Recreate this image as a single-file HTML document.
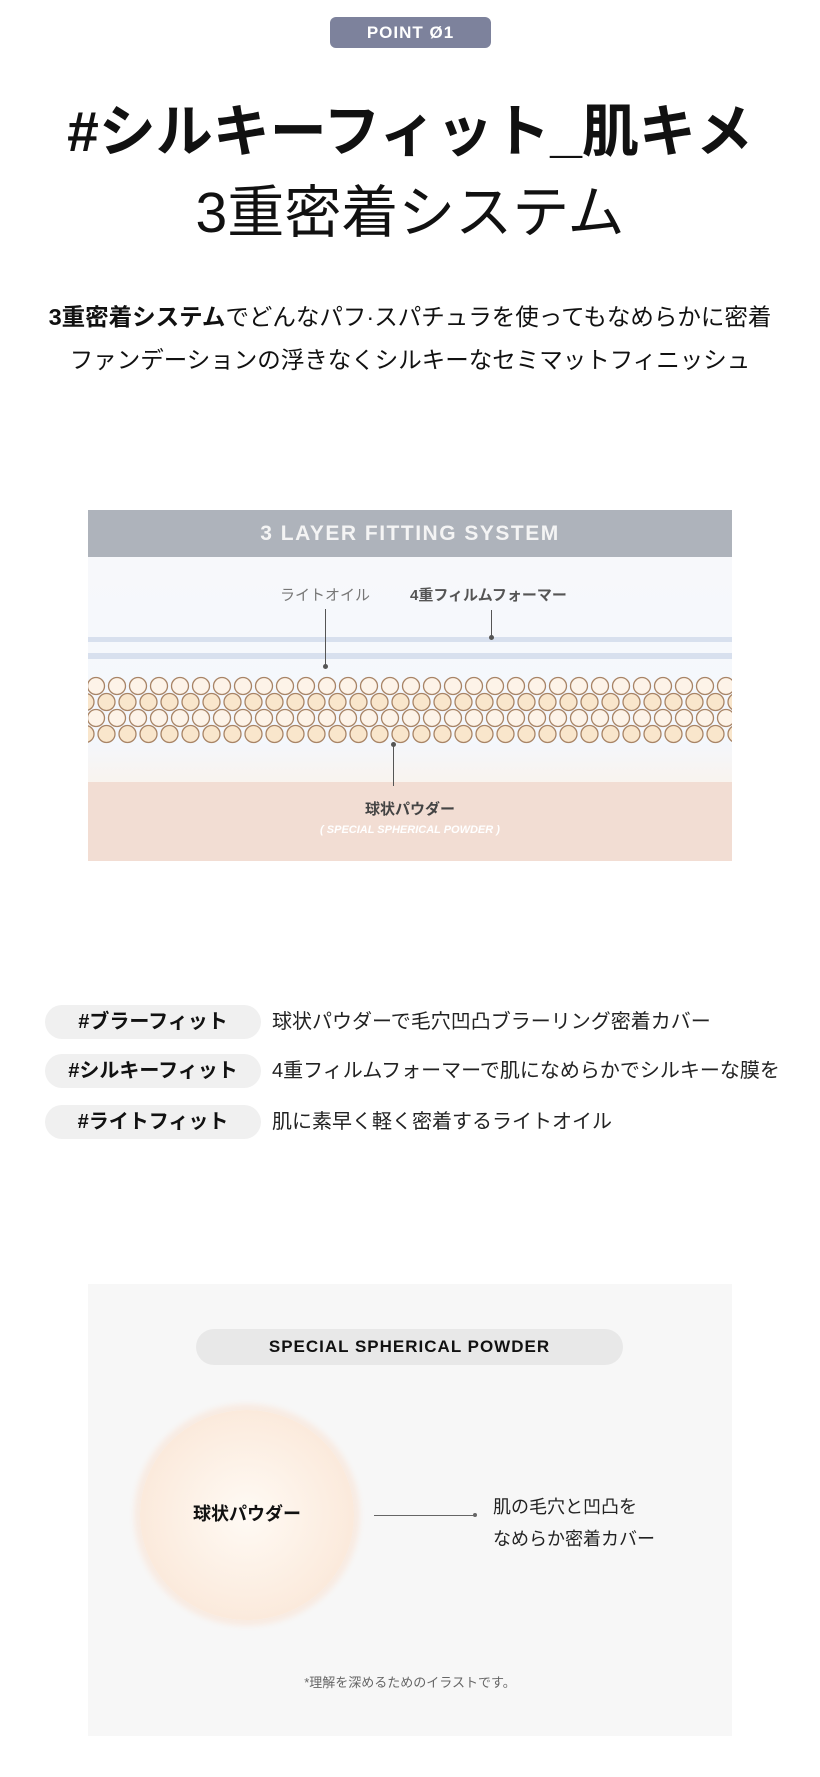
<!DOCTYPE html>
<html><head><meta charset="utf-8"><style>
body{margin:0;width:820px;height:1777px;background:#fff;position:relative;font-family:"Liberation Sans","Noto Sans CJK JP",sans-serif;color:#111;overflow:hidden}
.a{position:absolute}
.c{text-align:center;left:0;width:820px}
</style></head><body>
<div class="a" style="left:330px;top:17px;width:161px;height:31px;background:#7d829c;border-radius:6px;color:#fff;font-weight:bold;font-size:17px;line-height:31px;text-align:center;letter-spacing:1px">POINT Ø1</div>
<div class="a c" style="top:97px;font-size:57px;font-weight:bold;line-height:70px">#シルキーフィット_肌キメ</div>
<div class="a c" style="top:178px;font-size:57px;line-height:70px">3重密着システム</div>
<div class="a c" style="top:300px;font-size:23.5px;line-height:34px"><b>3重密着システム</b>でどんなパフ·スパチュラを使ってもなめらかに密着</div>
<div class="a c" style="top:343px;font-size:23.5px;line-height:34px">ファンデーションの浮きなくシルキーなセミマットフィニッシュ</div>

<div class="a" style="left:88px;top:510px;width:644px;height:351px;background:linear-gradient(#f8f8fa 0,#f6f8fc 120px,#f4f7fc 230px,#fcf1e6 300px);overflow:hidden">
 <div class="a" style="left:0;top:0;width:644px;height:47px;background:#aeb3bb;color:#f4f4f4;font-weight:bold;font-size:21px;line-height:47px;text-align:center;letter-spacing:1.5px">3 LAYER FITTING SYSTEM</div>
 <div class="a" style="left:192px;top:74px;font-size:15px;color:#777">ライトオイル</div>
 <div class="a" style="left:322px;top:74px;font-size:15px;color:#555;font-weight:bold">4重フィルムフォーマー</div>
 <div class="a" style="left:0;top:127px;width:644px;height:5px;background:#d8e0ee"></div>
 <div class="a" style="left:0;top:143px;width:644px;height:6px;background:#d8e0ee"></div>
 <div class="a" style="left:237px;top:99px;width:1px;height:57px;background:#555"></div>
 <div class="a" style="left:235px;top:154px;width:5px;height:5px;border-radius:50%;background:#555"></div>
 <div class="a" style="left:403px;top:100px;width:1px;height:27px;background:#555"></div>
 <div class="a" style="left:401px;top:125px;width:5px;height:5px;border-radius:50%;background:#555"></div>
 <div class="a" style="left:0;top:272px;width:644px;height:79px;background:#f2ddd3"></div>
 <svg class="a" id="bd" style="left:0;top:166px" width="644" height="70"></svg>
 <div class="a" style="left:305px;top:234px;width:1px;height:42px;background:#555"></div>
 <div class="a" style="left:303px;top:232px;width:5px;height:5px;border-radius:50%;background:#555"></div>
 <div class="a" style="left:0;width:644px;text-align:center;top:288px;font-size:15px;color:#444;font-weight:bold">球状パウダー</div>
 <div class="a" style="left:0;width:644px;text-align:center;top:314px;font-size:11px;color:#fff;font-style:italic;font-weight:bold">( SPECIAL SPHERICAL POWDER )</div>
</div>

<div class="a" style="left:45px;top:1005px;width:216px;height:34px;border-radius:17px;background:#f0f0f0;font-weight:bold;font-size:20px;line-height:34px;text-align:center">#ブラーフィット</div>
<div class="a" style="left:272px;top:1005px;font-size:20px;line-height:34px;color:#222">球状パウダーで毛穴凹凸ブラーリング密着カバー</div>
<div class="a" style="left:45px;top:1054px;width:216px;height:34px;border-radius:17px;background:#f0f0f0;font-weight:bold;font-size:20px;line-height:34px;text-align:center">#シルキーフィット</div>
<div class="a" style="left:272px;top:1054px;font-size:20px;line-height:34px;color:#222">4重フィルムフォーマーで肌になめらかでシルキーな膜を</div>
<div class="a" style="left:45px;top:1105px;width:216px;height:34px;border-radius:17px;background:#f0f0f0;font-weight:bold;font-size:20px;line-height:34px;text-align:center">#ライトフィット</div>
<div class="a" style="left:272px;top:1105px;font-size:20px;line-height:34px;color:#222">肌に素早く軽く密着するライトオイル</div>

<div class="a" style="left:88px;top:1284px;width:644px;height:452px;background:#f7f7f7">
 <div class="a" style="left:108px;top:45px;width:427px;height:36px;border-radius:18px;background:#e8e8e8;font-weight:bold;font-size:17px;line-height:36px;text-align:center;letter-spacing:1px">SPECIAL SPHERICAL POWDER</div>
 <div class="a" style="left:52px;top:126px;width:214px;height:210px;border-radius:50%;background:radial-gradient(circle,#fffaf4 0,#fbeadc 70%,#f6e2d4 100%);box-shadow:0 0 6px 6px #f8ebe2"></div>
 <div class="a" style="left:52px;top:216px;width:214px;text-align:center;font-weight:bold;font-size:18px">球状パウダー</div>
 <div class="a" style="left:286px;top:231px;width:101px;height:1px;background:#666"></div>
 <div class="a" style="left:385px;top:229px;width:4px;height:4px;border-radius:50%;background:#666"></div>
 <div class="a" style="left:405px;top:207px;font-size:18px;line-height:32px;color:#222">肌の毛穴と凹凸を<br>なめらか密着カバー</div>
 <div class="a" style="left:0;width:644px;text-align:center;top:388px;font-size:13px;color:#666">*理解を深めるためのイラストです。</div>
</div>
<script>
var s=document.getElementById('bd'),h='';
for(var r=0;r<4;r++){for(var i=-1;i<32;i++){var x=i*21+(r%2?10.5:0)+8,y=10+r*16;h+='<circle cx="'+x+'" cy="'+y+'" r="8.5" fill="'+(r%2?'#f9e6cc':'#fdf3e8')+'" stroke="#a88466" stroke-width="1.3"/>';}}
s.innerHTML=h;
</script>
</body></html>
